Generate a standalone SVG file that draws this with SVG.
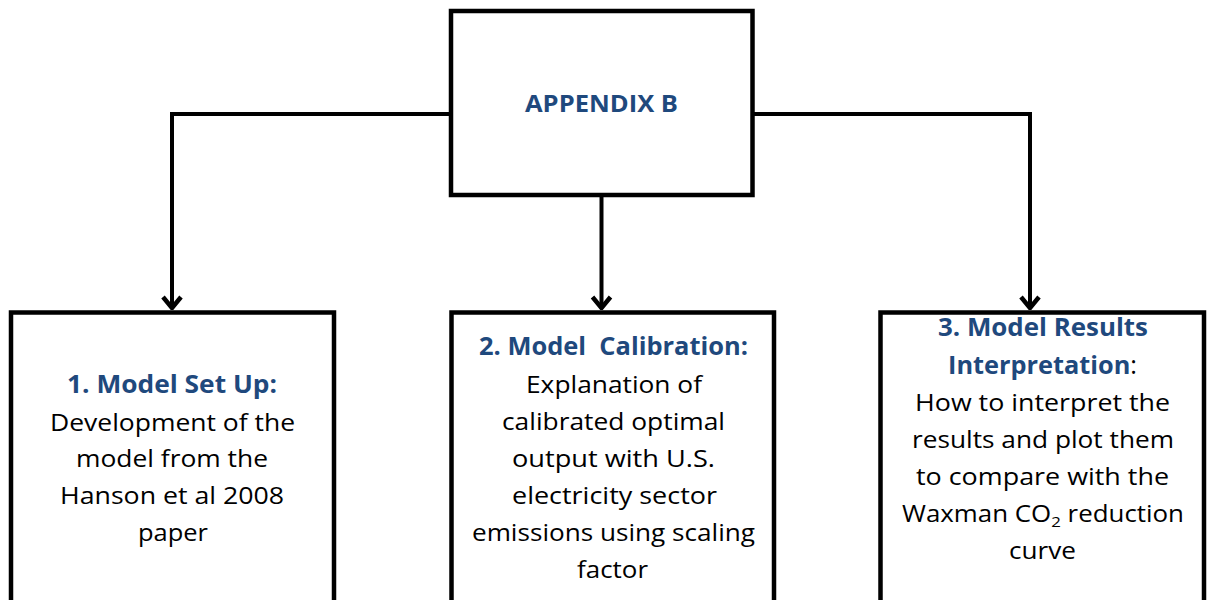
<svg xmlns="http://www.w3.org/2000/svg" width="1207" height="600" viewBox="0 0 1207 600">
<style>
.box{fill:#fff;stroke:#000;stroke-width:4.5}
.conn{fill:none;stroke:#000;stroke-width:4}
.h{font-family:"Open Sans","Liberation Sans",sans-serif;font-weight:bold;fill:#1F497D;text-anchor:middle}
.b{font-family:"Open Sans","Liberation Sans",sans-serif;fill:#000;font-size:23px;text-anchor:middle}
</style>
<defs>
<marker id="arr" markerUnits="userSpaceOnUse" viewBox="-14 -12 16 24" refX="0" refY="0" markerWidth="16" markerHeight="24" orient="auto">
<path d="M-11,-9 L0,0 L-11,9" fill="none" stroke="#000" stroke-width="4.5"/>
</marker>
</defs>
<rect width="1207" height="600" fill="#fff"/>
<g id="connectors">
<path class="conn" d="M451,114 H172 V308" marker-end="url(#arr)"/>
<path class="conn" d="M752,114 H1030 V308" marker-end="url(#arr)"/>
<path class="conn" d="M601.5,195 V308" marker-end="url(#arr)"/>
</g>
<g id="appendix">
<rect class="box" x="451" y="11" width="301.5" height="184"/>
<text class="h" x="601.5" y="112" font-size="23.5" textLength="153" lengthAdjust="spacingAndGlyphs">APPENDIX B</text>
</g>
<g id="setup">
<rect class="box" x="11" y="312.5" width="323" height="310"/>
<text class="h" x="172" y="393" font-size="25" textLength="210" lengthAdjust="spacingAndGlyphs">1. Model Set Up:</text>
<text class="b" x="172.5" y="431" textLength="245" lengthAdjust="spacingAndGlyphs">Development of the</text>
<text class="b" x="172" y="467" textLength="192" lengthAdjust="spacingAndGlyphs">model from the</text>
<text class="b" x="172" y="504" textLength="224" lengthAdjust="spacingAndGlyphs">Hanson et al 2008</text>
<text class="b" x="173" y="541" textLength="70" lengthAdjust="spacingAndGlyphs">paper</text>
</g>
<g id="calibration">
<rect class="box" x="451.5" y="312.5" width="322.5" height="310"/>
<text class="h" x="613.5" y="355" font-size="25" textLength="269" lengthAdjust="spacingAndGlyphs">2. Model&#160; Calibration:</text>
<text class="b" x="614" y="393" textLength="176" lengthAdjust="spacingAndGlyphs">Explanation of</text>
<text class="b" x="613.5" y="430" textLength="223" lengthAdjust="spacingAndGlyphs">calibrated optimal</text>
<text class="b" x="613.5" y="467" textLength="203" lengthAdjust="spacingAndGlyphs">output with U.S.</text>
<text class="b" x="614.5" y="504" textLength="205" lengthAdjust="spacingAndGlyphs">electricity sector</text>
<text class="b" x="613.5" y="541" textLength="283" lengthAdjust="spacingAndGlyphs">emissions using scaling</text>
<text class="b" x="612.5" y="578" textLength="71" lengthAdjust="spacingAndGlyphs">factor</text>
</g>
<g id="results">
<rect class="box" x="880.5" y="312.5" width="323.5" height="310"/>
<text class="h" x="1043" y="336" font-size="25" textLength="210" lengthAdjust="spacingAndGlyphs">3. Model Results</text>
<text class="h" x="1042.5" y="374" font-size="25" textLength="189" lengthAdjust="spacingAndGlyphs">Interpretation<tspan fill="#000" font-weight="normal">:</tspan></text>
<text class="b" x="1042.5" y="411" textLength="255" lengthAdjust="spacingAndGlyphs">How to interpret the</text>
<text class="b" x="1043" y="448" textLength="262" lengthAdjust="spacingAndGlyphs">results and plot them</text>
<text class="b" x="1042.5" y="485" textLength="253" lengthAdjust="spacingAndGlyphs">to compare with the</text>
<text class="b" x="1043" y="522" textLength="282" lengthAdjust="spacingAndGlyphs">Waxman CO<tspan font-size="15" dy="5">2</tspan><tspan dy="-5"> reduction</tspan></text>
<text class="b" x="1042.5" y="559" textLength="67" lengthAdjust="spacingAndGlyphs">curve</text>
</g>
</svg>
